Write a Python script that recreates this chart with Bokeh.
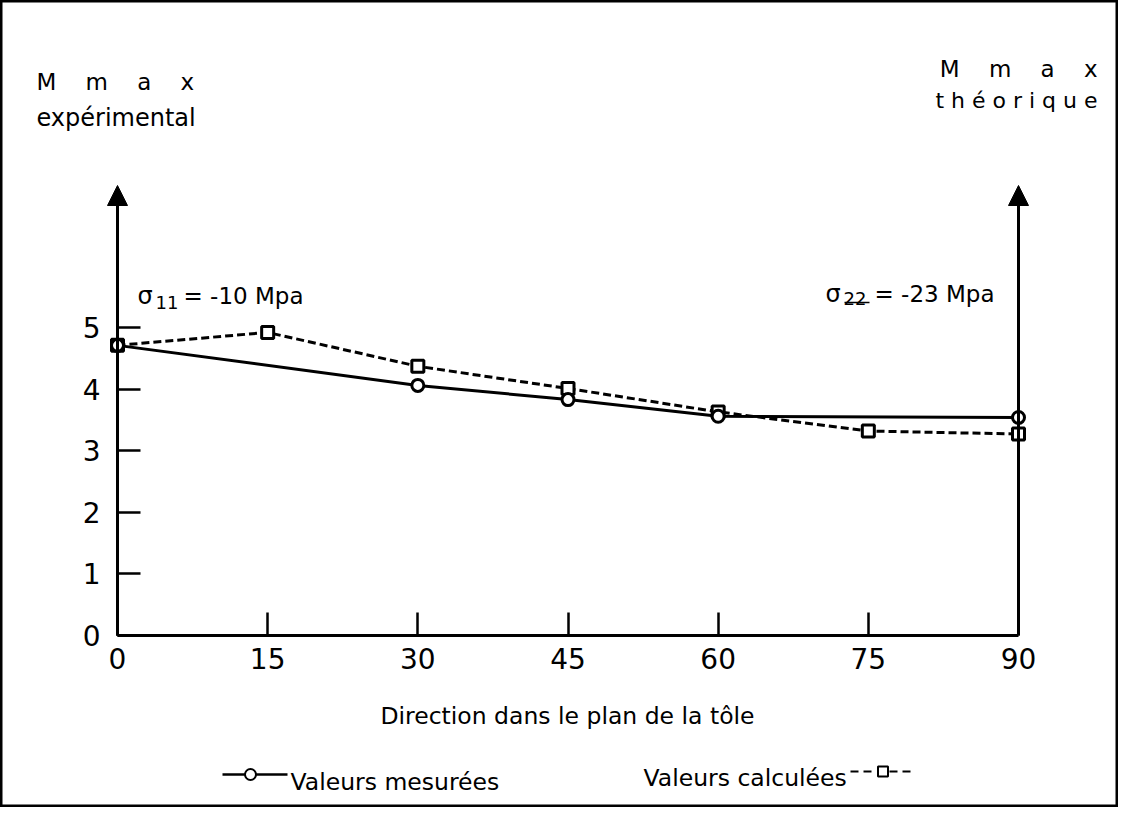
from bokeh.plotting import figure
from bokeh.models import Range1d, LinearAxis, FixedTicker, Label, Arrow, NormalHead
from bokeh.embed import file_html
from bokeh.resources import INLINE

# ---------------- data ----------------
angles_calc = [0, 15, 30, 45, 60, 75, 90]
calc_values = [4.71, 4.92, 4.37, 4.01, 3.63, 3.32, 3.27]
angles_meas = [0, 30, 45, 60, 90]
meas_values = [4.71, 4.06, 3.83, 3.56, 3.54]
x_ticks = [0, 15, 30, 45, 60, 75, 90]
y_ticks = [0, 1, 2, 3, 4, 5]
x_label = "Direction dans le plan de la tôle"
legend_meas = "Valeurs mesurées"
legend_calc = "Valeurs calculées"

# ---------------- layout helpers (picture pixel -> data) ----------------
W, H = 1118, 807
X0_PX, X90_PX = 117, 1018
Y0_PX, Y5_PX = 635, 327
SX = (X90_PX - X0_PX) / 90.0
SY = (Y0_PX - Y5_PX) / 5.0


def dx(px):
    return (px - X0_PX) / SX


def dy(py):
    return (Y0_PX - py) / SY


FONT = "DejaVu Sans"

p = figure(width=W, height=H, output_backend="svg", toolbar_location=None,
           x_axis_location=None, y_axis_location=None,
           x_range=Range1d(dx(0), dx(W)), y_range=Range1d(dy(H), dy(0)),
           min_border=0)
p.grid.visible = False
p.outline_line_color = "black"
p.outline_line_width = 4
p.background_fill_color = "white"
p.border_fill_color = "white"

# axes
xaxis = LinearAxis(fixed_location=0, ticker=FixedTicker(ticks=x_ticks), bounds=(0, 90))
xaxis.axis_line_width = 3
xaxis.axis_line_color = "black"
xaxis.major_tick_in = 23
xaxis.major_tick_out = 0
xaxis.major_tick_line_width = 2.5
xaxis.major_tick_line_color = "black"
xaxis.minor_tick_line_color = None
xaxis.major_label_text_font = FONT
xaxis.major_label_text_font_size = "28px"
xaxis.major_label_text_color = "black"
xaxis.major_label_standoff = 12
p.add_layout(xaxis, "below")

yaxis = LinearAxis(fixed_location=0, ticker=FixedTicker(ticks=y_ticks), bounds=(0, 5))
yaxis.axis_line_width = 3
yaxis.axis_line_color = "black"
yaxis.major_tick_in = 23
yaxis.major_tick_out = 0
yaxis.major_tick_line_width = 2.5
yaxis.major_tick_line_color = "black"
yaxis.minor_tick_line_color = None
yaxis.major_label_text_font = FONT
yaxis.major_label_text_font_size = "28px"
yaxis.major_label_text_color = "black"
yaxis.major_label_standoff = 17
p.add_layout(yaxis, "left")

# vertical arrows (left and right axes)
Y_TOP = dy(185)
for xa in (0, 90):
    p.add_layout(Arrow(end=NormalHead(size=20, fill_color="black", line_color="black"),
                       x_start=xa, y_start=0, x_end=xa, y_end=Y_TOP,
                       line_width=3, line_color="black"))

# data series
p.line(angles_calc, calc_values, line_color="black", line_width=3, line_dash="8 4")
p.line(angles_meas, meas_values, line_color="black", line_width=3)
p.scatter(angles_calc, calc_values, marker="square", size=12, fill_color="white",
          line_color="black", line_width=3)
p.scatter(angles_meas, meas_values, marker="circle", size=12, fill_color="white",
          line_color="black", line_width=3)


def lab(text, px, py, size, align="left", font=FONT):
    p.add_layout(Label(x=dx(px), y=dy(py), text=text, text_font=font,
                       text_font_size=size, text_align=align,
                       text_baseline="alphabetic", text_color="black"))


SP = " \u00a0 \u00a0"
# corner titles
lab("M" + SP + "m" + SP + "a" + SP + "x", 36, 81, "23px")
lab("expérimental", 36, 117, "24px")
lab("M" + SP + "m" + SP + "a" + SP + "x", 1097, 68, "23px", align="right")
lab("t h é o r i q u e", 1097, 100, "22px", align="right")

# stress annotations
lab("σ", 137, 295, "24px")
lab("11", 155, 302, "18px")
lab("= -10 Mpa", 183, 295, "23px")
lab("σ", 825, 293, "24px")
lab("22", 843, 298, "18px")
lab("= -23 Mpa", 874, 293, "23px")
p.line([dx(844), dx(869)], [dy(302), dy(302)], line_color="black", line_width=1.5)

# axis title
lab(x_label, 567, 715, "23.5px", align="center")

# legend
p.line([dx(222), dx(287)], [dy(774), dy(774)], line_color="black", line_width=2.5)
p.scatter([dx(250)], [dy(774)], marker="circle", size=11, fill_color="white",
          line_color="black", line_width=2)
lab(legend_meas, 290, 781, "23.5px")
lab(legend_calc, 643, 777, "23.5px")
p.line([dx(850), dx(876)], [dy(771), dy(771)], line_color="black", line_width=2, line_dash="8 5")
p.line([dx(889), dx(913)], [dy(771), dy(771)], line_color="black", line_width=2, line_dash="8 5")
p.scatter([dx(882.5)], [dy(771)], marker="square", size=10, fill_color="white",
          line_color="black", line_width=2)

open("out.html", "w").write(file_html(p, INLINE))
